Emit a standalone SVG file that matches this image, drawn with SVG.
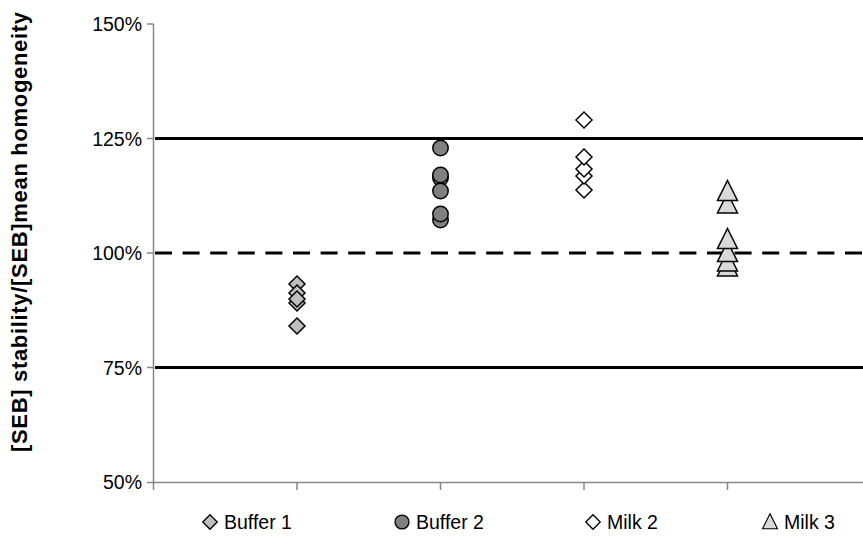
<svg xmlns="http://www.w3.org/2000/svg" xmlns:xlink="http://www.w3.org/1999/xlink" width="863" height="538" viewBox="0 0 863 538">
<style>
  .axis { stroke: #868686; stroke-width: 1.5; fill: none; }
  .ref { stroke: #000; stroke-width: 3; fill: none; }
  .dash { stroke-dasharray: 17 10.6; }
  .lbl { font-family: "Liberation Sans", Arial, sans-serif; font-size: 19.5px; fill: #000; }
  .tick { text-anchor: end; }
  .title { font-family: "Liberation Sans", Arial, sans-serif; font-size: 22px; font-weight: bold; fill: #000; text-anchor: middle; }
  .mk { stroke: #000; stroke-width: 1.5; }
  .b1 { fill: #BFBFBF; }
  .b2 { fill: #808080; }
  .m2 { fill: #FFFFFF; }
  .m3 { fill: #D9D9D9; }
</style>
<defs>
  <path id="dia" d="M0,-8 L8,0 L0,8 L-8,0 Z"/>
  <circle id="cir" cx="0" cy="0" r="7.7"/>
  <path id="tri" d="M0,-10 L10,10 L-10,10 Z"/>
</defs>
<rect width="863" height="538" fill="#FFFFFF"/>

<g id="axes">
  <line class="axis" x1="153.5" y1="24" x2="153.5" y2="490"/>
  <line class="axis" x1="153" y1="482.5" x2="863" y2="482.5"/>
  <line class="axis" x1="147" y1="24" x2="153.5" y2="24"/>
  <line class="axis" x1="147" y1="138.5" x2="153.5" y2="138.5"/>
  <line class="axis" x1="147" y1="253" x2="153.5" y2="253"/>
  <line class="axis" x1="147" y1="367.5" x2="153.5" y2="367.5"/>
  <line class="axis" x1="147" y1="482.5" x2="153.5" y2="482.5"/>
  <line class="axis" x1="297" y1="482.5" x2="297" y2="490"/>
  <line class="axis" x1="440.5" y1="482.5" x2="440.5" y2="490"/>
  <line class="axis" x1="584" y1="482.5" x2="584" y2="490"/>
  <line class="axis" x1="727.5" y1="482.5" x2="727.5" y2="490"/>
  <text class="lbl tick" x="142" y="31">150%</text>
  <text class="lbl tick" x="142" y="145.5">125%</text>
  <text class="lbl tick" x="142" y="260">100%</text>
  <text class="lbl tick" x="142" y="374.5">75%</text>
  <text class="lbl tick" x="142" y="489">50%</text>
  <text class="title" transform="translate(27,232) rotate(-90)" textLength="440" lengthAdjust="spacing">[SEB]  stability/[SEB]mean  homogeneity</text>
</g>

<g id="connectors">
  <line class="ref" x1="155" y1="138.5" x2="863" y2="138.5"/>
  <line class="ref dash" x1="155" y1="253" x2="863" y2="253"/>
  <line class="ref" x1="155" y1="367.5" x2="863" y2="367.5"/>
</g>

<g id="buffer1" class="mk b1">
  <use xlink:href="#dia" x="297" y="284"/>
  <use xlink:href="#dia" x="297" y="293"/>
  <use xlink:href="#dia" x="297" y="303"/>
  <use xlink:href="#dia" x="297" y="299"/>
  <use xlink:href="#dia" x="297" y="326"/>
</g>

<g id="buffer2" class="mk b2">
  <use xlink:href="#cir" x="440.5" y="148"/>
  <use xlink:href="#cir" x="440.5" y="178"/>
  <use xlink:href="#cir" x="440.5" y="175"/>
  <use xlink:href="#cir" x="440.5" y="191"/>
  <use xlink:href="#cir" x="440.5" y="220"/>
  <use xlink:href="#cir" x="440.5" y="214"/>
</g>

<g id="milk2" class="mk m2">
  <use xlink:href="#dia" x="584" y="120"/>
  <use xlink:href="#dia" x="584" y="190"/>
  <use xlink:href="#dia" x="584" y="176"/>
  <use xlink:href="#dia" x="584" y="169"/>
  <use xlink:href="#dia" x="584" y="157"/>
</g>

<g id="milk3" class="mk m3">
  <use xlink:href="#tri" x="727.5" y="203"/>
  <use xlink:href="#tri" x="727.5" y="190.5"/>
  <use xlink:href="#tri" x="727.5" y="266"/>
  <use xlink:href="#tri" x="727.5" y="261"/>
  <use xlink:href="#tri" x="727.5" y="251.5"/>
  <use xlink:href="#tri" x="727.5" y="238.5"/>
</g>

<g id="legend">
  <g transform="translate(210,522) scale(0.9)"><use class="mk b1" xlink:href="#dia"/></g>
  <text class="lbl" x="224" y="529">Buffer 1</text>
  <g transform="translate(402,522) scale(0.9)"><use class="mk b2" xlink:href="#cir"/></g>
  <text class="lbl" x="416" y="529">Buffer 2</text>
  <g transform="translate(593,522) scale(0.9)"><use class="mk m2" xlink:href="#dia"/></g>
  <text class="lbl" x="607" y="529">Milk 2</text>
  <g transform="translate(770,522) scale(0.75)"><use class="mk m3" xlink:href="#tri" x="0" y="-1"/></g>
  <text class="lbl" x="784" y="529">Milk 3</text>
</g>
</svg>
